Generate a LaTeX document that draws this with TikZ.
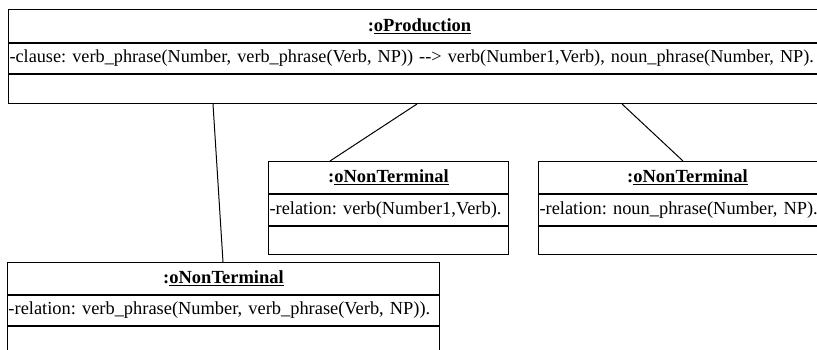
\documentclass[tikz,border=0pt]{standalone}
\usepackage{fontspec}
\setmainfont{Liberation Serif}
\frenchspacing
\begin{document}
\begin{tikzpicture}[x=1pt,y=-1pt,
  cell/.style={draw, line width=1pt, inner sep=0pt, anchor=north west,
               font=\fontsize{18.5}{22}\selectfont},
  headcell/.style={cell, font=\bfseries\fontsize{18.5}{22}\selectfont},
  attrcell/.style={cell, align=left, inner xsep=1pt, font=\fontsize{18.4}{22}\selectfont},
  link/.style={draw, line width=1pt}
]
\useasboundingbox (0,0) rectangle (817,349);
\fill[white] (0,0) rectangle (817,349);
\clip (0,0) rectangle (817,349);

% production object
\node[headcell, minimum width=822, minimum height=33] (prodHead) at (8,9) {:\underline{oProduction}};
\node[attrcell, text width=820, minimum height=30, font=\fontsize{18.25}{22}\selectfont] (prodAttr) at (prodHead.south west)
  {-clause: verb\_phrase(Number, verb\_phrase(Verb, NP)) -{}-> verb(Number1,Verb), noun\_phrase(Number, NP).};
\node[cell, minimum width=822, minimum height=29] (prodOps) at (prodAttr.south west) {};

% verb non-terminal
\node[headcell, minimum width=240, minimum height=32] (verbHead) at (268,161) {:\underline{oNonTerminal}};
\node[attrcell, text width=238, minimum height=31] (verbAttr) at (verbHead.south west)
  {-relation: verb(Number1,Verb).};
\node[cell, minimum width=240, minimum height=28] (verbOps) at (verbAttr.south west) {};

% noun phrase non-terminal
\node[headcell, minimum width=298, minimum height=32] (npHead) at (538,161) {:\underline{oNonTerminal}};
\node[attrcell, text width=296, minimum height=31] (npAttr) at (npHead.south west)
  {-relation: noun\_phrase(Number, NP).};
\node[cell, minimum width=298, minimum height=28] (npOps) at (npAttr.south west) {};

% verb phrase non-terminal
\node[headcell, minimum width=432, minimum height=32] (vpHead) at (7,262) {:\underline{oNonTerminal}};
\node[attrcell, text width=430, minimum height=30] (vpAttr) at (vpHead.south west)
  {-relation: verb\_phrase(Number, verb\_phrase(Verb, NP)).};
\node[cell, minimum width=432, minimum height=40] (vpOps) at (vpAttr.south west) {};

% links
\draw[link] ([xshift=205]prodOps.south west) -- ([xshift=216]vpHead.north west);
\draw[link] ([xshift=409]prodOps.south west) -- ([xshift=62]verbHead.north west);
\draw[link] ([xshift=614]prodOps.south west) -- ([xshift=145]npHead.north west);
\end{tikzpicture}
\end{document}
